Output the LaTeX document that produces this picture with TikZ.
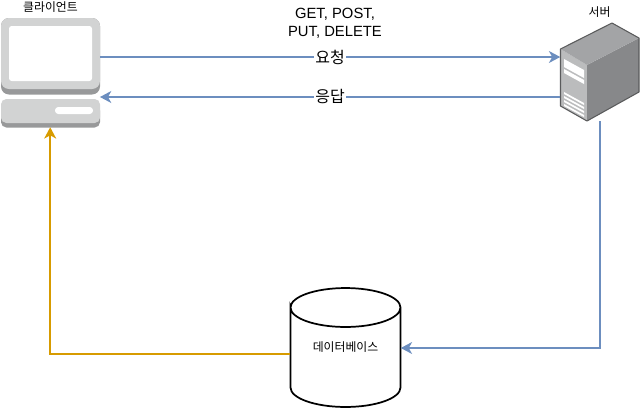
\documentclass[tikz,border=0pt]{standalone}
\usepackage{fontspec}
\setmainfont{Liberation Sans}
\newfontfamily\kofont{Noto Sans CJK KR}
\usepackage{xcolor}
\usetikzlibrary{shapes.geometric, arrows.meta, positioning, calc}

\definecolor{linkblue}{HTML}{6C8EBF}
\definecolor{linkorange}{HTML}{D79B00}
\definecolor{iconlight}{HTML}{D2D3D3}
\definecolor{icondark}{HTML}{98999A}
\definecolor{srvfront}{HTML}{BBBCBD}
\definecolor{srvside}{HTML}{87888A}
\definecolor{srvtop}{HTML}{A3A4A6}
\definecolor{srvedge}{HTML}{5A5B5C}

\tikzset{
    iconbox/.style={inner sep=0pt, minimum width=#1*0.75pt},
    smalltext/.style={font=\kofont\fontsize{8.9pt}{10pt}\selectfont, inner sep=0pt},
    linktext/.style={font=\kofont\fontsize{12pt}{14pt}\selectfont, fill=white, inner sep=1pt},
    reqlink/.style={draw=linkblue, line width=1.15pt, -{Stealth[length=8.5pt, width=9pt, inset=2.5pt]}},
    dblink/.style={draw=linkorange, line width=1.15pt, -{Stealth[length=8.5pt, width=9pt, inset=2.5pt]}}
}

\begin{document}
\begin{tikzpicture}[x=0.75pt, y=-0.75pt]
    \useasboundingbox (0,0) rectangle (640,408);

    % client icon
    \node[iconbox=99, minimum height=81.75pt] (clientbox) at (50.2,72.5) {};
    \fill[icondark, rounded corners=6pt] (1,18) rectangle (100,94.5);
    \fill[iconlight, rounded corners=6pt] (1,18) rectangle (100,89);
    \fill[white, rounded corners=2pt] (9,26) rectangle (92,81);
    \fill[icondark, rounded corners=4pt] (1,105) rectangle (100,127.5);
    \fill[iconlight, rounded corners=4pt] (1,99) rectangle (100,123);
    \fill[white, rounded corners=2.5pt] (55,107) rectangle (93,114);

    % server icon
    \node[iconbox=79, minimum height=74.25pt] (serverbox) at (600,71.5) {};
    \fill[srvfront] (560.5,49) -- (587,65) -- (587,121) -- (560.5,106) -- cycle;
    \fill[srvside] (587,65) -- (639,38) -- (639,92) -- (587,121) -- cycle;
    \fill[srvtop] (560.5,49) -- (612,23) -- (639,38) -- (587,65) -- cycle;
    \draw[srvedge, line width=0.8pt, line join=round] (560.5,49) -- (612,23) -- (639,38) -- (639,92) -- (587,121) -- (560.5,106) -- cycle;
    \fill[white] (564,59) -- (584,70) -- (584,78) -- (564,67) -- cycle;
    \fill[white] (564,69) -- (584,80) -- (584,84) -- (564,73) -- cycle;
    \foreach \yy in {92,96,100,104} {
        \fill[white] (564,\yy) -- (584,\yy+11) -- (584,\yy+13) -- (564,\yy+2) -- cycle;
    }

    % database
    \node[inner sep=0pt, minimum width=82.5pt, minimum height=89.25pt] (dbnode) at (345.5,347.5) {};
    \draw[line width=1.3pt] (290.5,307.5) arc[start angle=180, end angle=-180, x radius=41.25pt, y radius=14.6pt]
        -- (290.5,387.5) arc[start angle=180, end angle=360, x radius=41.25pt, y radius=14.6pt] -- (400.5,307.5);
    \node[smalltext] (dblabel) at (dbnode.center) {데이터베이스};

    % labels
    \node[smalltext] (clientlabel) at (50.5,7) {클라이언트};
    \node[smalltext] (serverlabel) at (599.5,12) {서버};
    \node[font=\fontsize{11.1pt}{13.5pt}\selectfont, align=center, inner sep=0pt] (methodlabel) at (335,23) {GET, POST,\\PUT, DELETE};

    % links
    \coordinate (reqlevel) at (0,57);
    \coordinate (resplevel) at (0,97);
    \coordinate (dblevel) at (0,348);
    \coordinate (backlevel) at (0,354);
    \draw[reqlink] (clientbox.east |- reqlevel) -- node[linktext] (reqlabel) {요청} (serverbox.west |- reqlevel);
    \draw[reqlink] (serverbox.west |- resplevel) -- node[linktext] (resplabel) {응답} (clientbox.east |- resplevel);
    \draw[reqlink] (serverbox.south) |- (dbnode.east |- dblevel);
    \draw[dblink] (dbnode.west |- backlevel) -| (clientbox.south);
\end{tikzpicture}
\end{document}
